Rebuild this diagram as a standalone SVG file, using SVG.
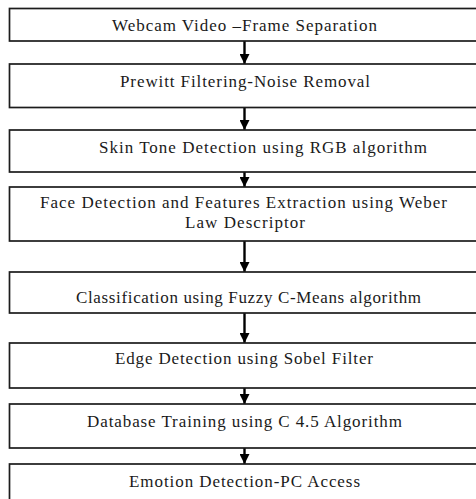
<svg xmlns="http://www.w3.org/2000/svg" width="476" height="499" viewBox="0 0 476 499">
  <style>
    .box { fill: #ffffff; stroke: #1c1c1c; stroke-width: 1.7; }
    .lbl { font-family: "Liberation Serif", "Times New Roman", serif; font-size: 17px; fill: #1a1a1a; text-anchor: middle; }
    .flow { stroke: #000000; stroke-width: 2.4; fill: none; marker-end: url(#head); }
  </style>
  <defs>
    <marker id="head" markerUnits="userSpaceOnUse" markerWidth="10" markerHeight="10" viewBox="0 0 10 10" refX="10" refY="5" orient="auto">
      <path d="M0,0 L10,5 L0,10 Z" fill="#000000"/>
    </marker>
  </defs>
  <rect width="476" height="499" fill="#ffffff"/>

  <g id="connectors">
    <line class="flow" x1="244.5" y1="41" x2="244.5" y2="64"/>
    <line class="flow" x1="244.5" y1="108" x2="244.5" y2="130"/>
    <line class="flow" x1="244.5" y1="172" x2="244.5" y2="187"/>
    <line class="flow" x1="244.5" y1="241" x2="244.5" y2="272"/>
    <line class="flow" x1="244.5" y1="313" x2="244.5" y2="343"/>
    <line class="flow" x1="244.5" y1="388" x2="244.5" y2="404"/>
    <line class="flow" x1="244.5" y1="448" x2="244.5" y2="464"/>
  </g>

  <g id="frame-separation">
    <rect class="box" x="9.5" y="8.5" width="475" height="32.5"/>
    <text class="lbl" x="244.5" y="30.5" textLength="265" lengthAdjust="spacing">Webcam Video –Frame Separation</text>
  </g>
  <g id="noise-removal">
    <rect class="box" x="9.5" y="64" width="475" height="43.5"/>
    <text class="lbl" x="245" y="87" textLength="250" lengthAdjust="spacing">Prewitt Filtering-Noise Removal</text>
  </g>
  <g id="skin-tone">
    <rect class="box" x="9.5" y="130" width="475" height="42"/>
    <text class="lbl" x="263" y="153" textLength="328" lengthAdjust="spacing">Skin Tone Detection using RGB algorithm</text>
  </g>
  <g id="face-features">
    <rect class="box" x="9.5" y="187" width="475" height="54"/>
    <text class="lbl" x="243.5" y="208" textLength="407" lengthAdjust="spacing">Face Detection and Features Extraction  using Weber</text>
    <text class="lbl" x="245" y="228" textLength="120" lengthAdjust="spacing">Law Descriptor</text>
  </g>
  <g id="classification">
    <rect class="box" x="9.5" y="272" width="475" height="41"/>
    <text class="lbl" x="248.5" y="302.5" textLength="345" lengthAdjust="spacing">Classification using Fuzzy C-Means algorithm</text>
  </g>
  <g id="edge-detection">
    <rect class="box" x="9.5" y="343" width="475" height="45"/>
    <text class="lbl" x="244" y="364" textLength="258" lengthAdjust="spacing">Edge Detection using Sobel Filter</text>
  </g>
  <g id="database-training">
    <rect class="box" x="9.5" y="404" width="475" height="44"/>
    <text class="lbl" x="244.5" y="427" textLength="315" lengthAdjust="spacing">Database Training using C 4.5 Algorithm</text>
  </g>
  <g id="emotion-detection">
    <rect class="box" x="9.5" y="464" width="475" height="45"/>
    <text class="lbl" x="244.5" y="487" textLength="231" lengthAdjust="spacing">Emotion Detection-PC Access</text>
  </g>
</svg>
